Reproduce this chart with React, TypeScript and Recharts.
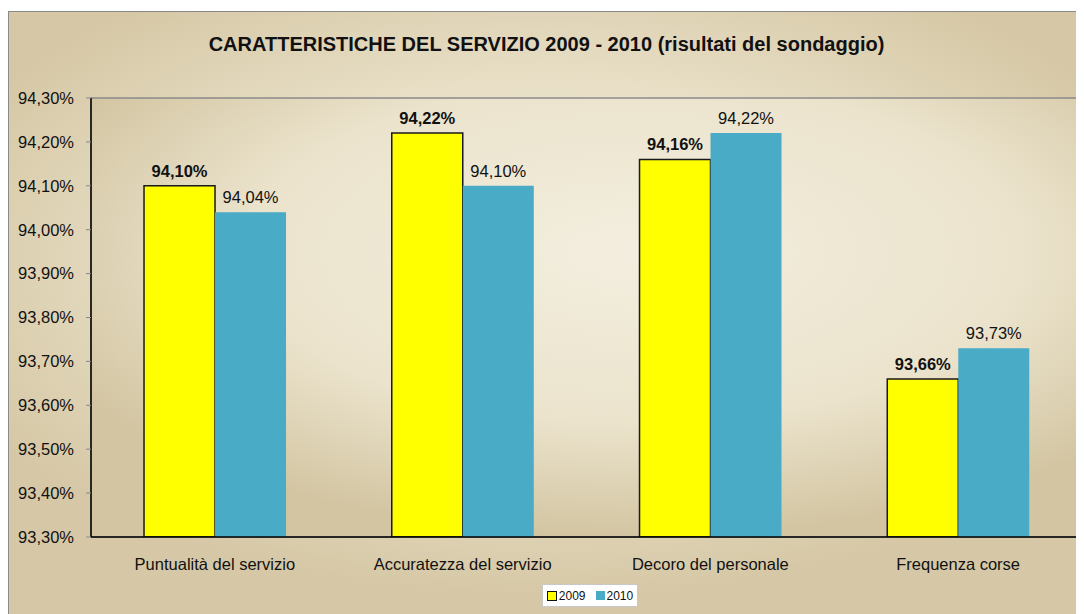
import React from 'react';
import { BarChart, Bar, XAxis, YAxis, LabelList, ReferenceArea } from 'recharts';

const categories = ['Puntualità del servizio', 'Accuratezza del servizio', 'Decoro del personale', 'Frequenza corse'];
const values2009 = [94.10, 94.22, 94.16, 93.66];
const values2010 = [94.04, 94.10, 94.22, 93.73];
const yTicks = [93.3, 93.4, 93.5, 93.6, 93.7, 93.8, 93.9, 94.0, 94.1, 94.2, 94.3];
const boundaryTicks = [0, 1, 2, 3, 4];

const data = categories.map((name, i) => ({ name, idx: i + 0.5, y2009: values2009[i], y2010: values2010[i] }));

const fmt = (v: number) => v.toFixed(2).replace('.', ',') + '%';
const FONT = 'Arial, "Liberation Sans", sans-serif';

export default function App() {
  return (
    <div
      style={{
        position: 'relative',
        width: 1075,
        height: 602,
        marginTop: 3,
        border: '1px solid #8a8a8a',
        background:
          'radial-gradient(ellipse 60% 55% at 50% 42%, #f3eddd 0%, #e8dfc6 55%, #d6c8a6 100%)',
        fontFamily: FONT,
      }}
    >
      <div
        style={{
          position: 'absolute',
          left: 0,
          width: 1075,
          top: 21,
          textAlign: 'center',
          fontWeight: 'bold',
          fontSize: 20,
          color: '#111',
        }}
      >
        CARATTERISTICHE DEL SERVIZIO 2009 - 2010 (risultati del sondaggio)
      </div>
      <BarChart
        width={1075}
        height={602}
        data={data}
        margin={{ top: 86, right: 2, left: 0, bottom: 0 }}
        barCategoryGap="21.4%"
        barGap={0}
        style={{ position: 'absolute', left: 0, top: 0 }}
      >
        <defs>
          <radialGradient id="plotGrad" cx="55%" cy="35%" r="65%">
            <stop offset="0%" stopColor="#f3eedf" />
            <stop offset="60%" stopColor="#ebe3cc" />
            <stop offset="100%" stopColor="#d3c5a2" />
          </radialGradient>
        </defs>
        <XAxis
          xAxisId="b"
          type="number"
          dataKey="idx"
          domain={[0, 4]}
          ticks={boundaryTicks}
          tick={false}
          axisLine={false}
          tickLine={{ stroke: '#888' }}
          tickSize={6}
          height={0}
        />
        <XAxis
          dataKey="name"
          xAxisId="cat"
          height={77}
          tickLine={false}
          axisLine={{ stroke: '#000', strokeWidth: 1.5 }}
          tickSize={0}
          tickMargin={21}
          tick={{ fill: '#111', fontSize: 16.5, fontFamily: FONT }}
        />
        <YAxis
          width={82}
          domain={[93.3, 94.3]}
          ticks={yTicks}
          interval={0}
          tickFormatter={fmt}
          axisLine={{ stroke: '#000', strokeWidth: 1.5 }}
          tickLine={{ stroke: '#888' }}
          tickSize={5}
          tickMargin={12}
          tick={{ fill: '#111', fontSize: 16.5, fontFamily: FONT }}
          allowDataOverflow
        />
        <ReferenceArea
          xAxisId="cat"
          y1={93.3}
          y2={94.3}
          fill="url(#plotGrad)"
          fillOpacity={1}
          stroke="#8a8a8a"
          strokeWidth={1.5}
          ifOverflow="visible"
        />
        <Bar xAxisId="cat" dataKey="y2009" fill="#ffff00" stroke="#1a1a1a" strokeWidth={1.5} isAnimationActive={false}>
          <LabelList
            dataKey="y2009"
            position="top"
            offset={9}
            formatter={(v: number) => fmt(v)}
            style={{ fill: '#111', fontSize: 16.5, fontWeight: 'bold', fontFamily: FONT }}
          />
        </Bar>
        <Bar xAxisId="cat" dataKey="y2010" fill="#4aabc6" isAnimationActive={false}>
          <LabelList
            dataKey="y2010"
            position="top"
            offset={9}
            formatter={(v: number) => fmt(v)}
            style={{ fill: '#111', fontSize: 16.5, fontFamily: FONT }}
          />
        </Bar>
      </BarChart>
      <div
        style={{
          position: 'absolute',
          left: 533,
          top: 572,
          width: 96,
          height: 23,
          boxSizing: 'border-box',
          background: '#fff',
          border: '1px solid #c8c8c8',
          display: 'flex',
          alignItems: 'center',
          justifyContent: 'center',
          fontSize: 12,
          color: '#111',
        }}
      >
        <span style={{ display: 'inline-block', width: 8, height: 8, background: '#ffff00', border: '1.5px solid #111', marginRight: 2 }} />
        <span style={{ marginRight: 10 }}>2009</span>
        <span style={{ display: 'inline-block', width: 9, height: 9, background: '#4aabc6', marginRight: 2 }} />
        <span>2010</span>
      </div>
    </div>
  );
}
